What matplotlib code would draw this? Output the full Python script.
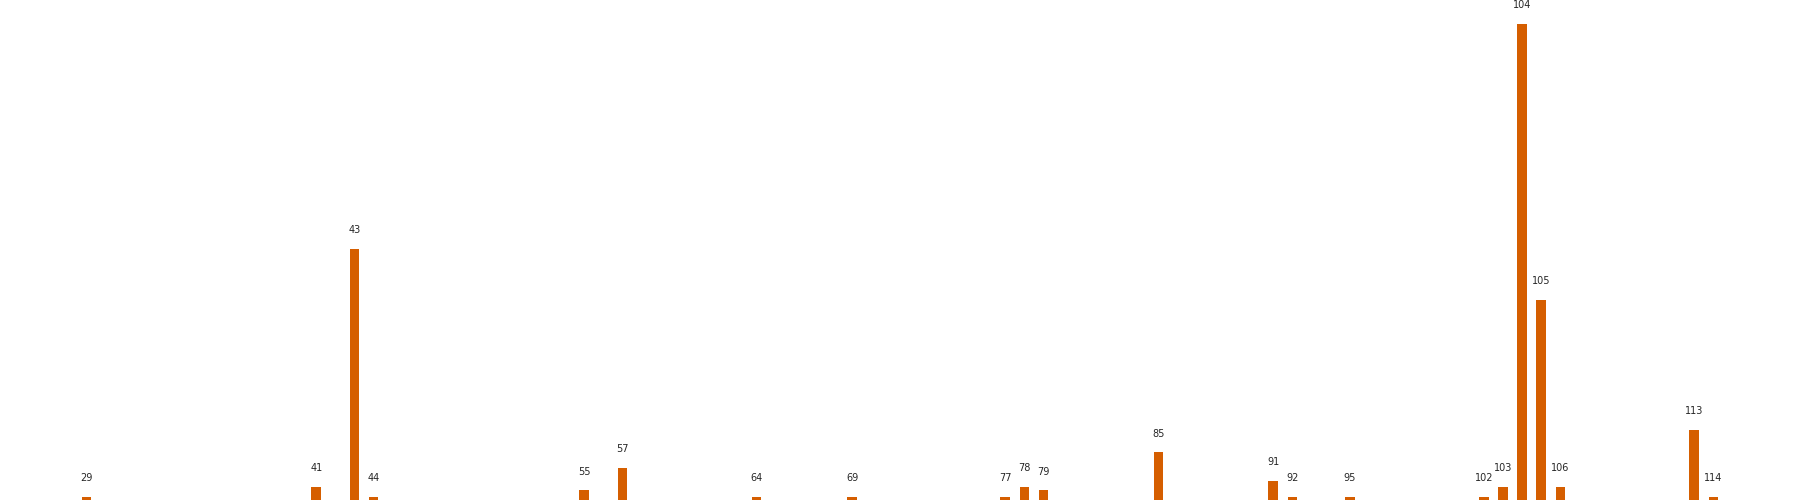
import matplotlib
matplotlib.use("Agg")
import matplotlib.pyplot as plt

# valores: posicao (categoria) e contagem
posicoes = [29, 41, 43, 44, 55, 57, 64, 69, 77, 78, 79, 85,
            91, 92, 95, 102, 103, 104, 105, 106, 113, 114]
contagens = [1, 4, 79, 1, 3, 10, 1, 1, 1, 4, 3, 15,
             6, 1, 1, 1, 4, 150, 63, 4, 22, 1]

cor_barra = "#D55E00"

fig = plt.figure(figsize=(18, 5), dpi=100)
ax = fig.add_axes([0, 0, 1, 1])
ax.bar(posicoes, contagens, width=0.5, color=cor_barra)

for x, h in zip(posicoes, contagens):
    ax.text(x, h + 5, str(x), ha="center", va="baseline",
            fontsize=7, color="#262626")

ax.margins(x=0.05, y=0.05)
ax.axis("off")
fig.savefig("out.png", dpi=100)
plt.close(fig)
